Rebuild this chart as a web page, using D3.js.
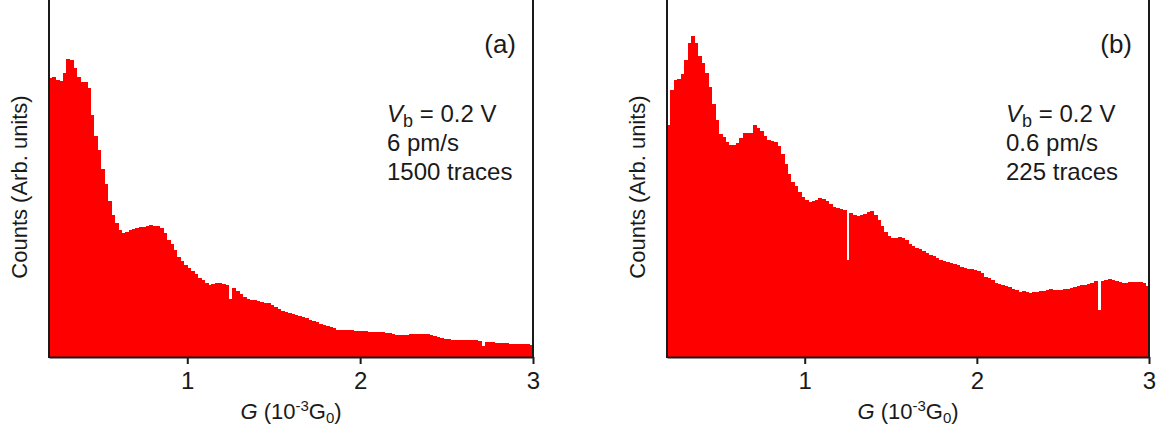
<!DOCTYPE html>
<html>
<head>
<meta charset="utf-8">
<script src="https://cdn.jsdelivr.net/npm/d3@7"></script>
<style>
  html, body { margin: 0; padding: 0; background: #fff; }
  svg { display: block; }
  text { font-family: "Liberation Sans", Arial, sans-serif; fill: #1a1a1a; }
</style>
</head>
<body>
<svg id="chart" width="1158" height="432"></svg>
<script>
// ---- data ----
const binStart = 0.2;     // 10^-3 G0
const binWidth = 0.02;    // 10^-3 G0
const xTicks = [1, 2, 3];

const countsA = [279,280,277,276,284.5,298,297,289,280,275,
  275,269,242,221,207,188,173,156,142,134,
  127,124,125,127,128,129,130,130.5,131.5,132,
  131.5,131,129,124,117,113,107,100.5,96,92,
  89,86,83,79,77,74,72.5,73.5,74.5,74,
  73,72,58,69,66,63,60,58.5,57.5,56.7,
  56,54.7,54.3,54.3,52.5,50.5,48.5,46.5,45,44,
  42.8,42.3,41.5,40.3,39,37,35.7,34.7,33.5,32.4,
  31.4,30.5,29,27.3,27,27,27,27,26.5,26.2,
  26,25.7,25.4,25.3,25.3,25.3,25.3,24.5,23.7,22.8,
  21.8,22,22.2,22.5,22.7,22.8,23,23,22.8,22.7,
  22.2,21,20,18.8,18,17.7,17.4,17.2,17.1,17,
  17,17,17,16.7,16.4,11.5,15.5,15,14.6,14.3,
  14,13.7,13.6,13.5,13.4,13.3,13.2,13,12.7,12];

const countsB = [232,267,277,278.5,283,297,314,321,314,301,
  294,284,270,253,237,223.5,220,215,212.5,212,
  214.5,219.5,224,224.3,224,232,229,226.5,221,217,
  216,215,211.5,203.5,193,183,175,171,165.5,160.5,
  157,155.5,156.5,157.5,159,158.5,156.5,153.5,150.5,149,
  148,147.3,97,144,142.2,141.5,142,143,145,146.5,
  142,137,131,125.5,121,119,119.5,119.7,119.2,117.2,
  113.5,111.5,109.5,108,106,104.5,102.5,101,99.2,97.5,
  95.7,94.7,93.8,93,92,90.5,88.8,88.2,87.7,87,
  86,84,80.5,79,77.5,74,73,71.8,71,69.8,
  68.5,67,65.4,66,65.5,64.3,64.7,65,65.8,66.4,
  67.2,67.6,67.1,67.1,67.5,67.9,68.4,69.1,69.9,70.7,
  71.6,72.5,73.4,74.2,75.9,47,76.3,76.8,77.6,77,
  76.1,75.2,74.4,74.5,74.7,75,75.3,74.8,74.3,71.5];

const panelLabels = ["(a)", "(b)"];
const speeds = ["6 pm/s", "0.6 pm/s"];
const traces = ["1500 traces", "225 traces"];
const biasText = "= 0.2 V";
const yTitle = "Counts (Arb. units)";

// ---- layout ----
const svg = d3.select("#chart");
const plotTop = 0, plotBottom = 357;
const panels = [
  { left: 49, right: 533, counts: countsA, textX: 387, idx: 0 },
  { left: 667, right: 1149, counts: countsB, textX: 1006, idx: 1 }
];
const yMax = 357;

panels.forEach(p => {
  const x = d3.scaleLinear().domain([0.2, 3]).range([p.left, p.right]);
  const y = d3.scaleLinear().domain([0, yMax]).range([plotBottom, plotTop]);
  const g = svg.append("g");

  // bars
  g.append("g").selectAll("rect")
    .data(p.counts)
    .join("rect")
    .attr("x", (d, i) => x(binStart + i * binWidth))
    .attr("width", (d, i) => Math.max(0, Math.min(p.right, x(binStart + (i + 1) * binWidth) + 0.5) - x(binStart + i * binWidth)))
    .attr("y", d => y(d))
    .attr("height", d => y(0) - y(d))
    .attr("fill", "#ff0000")
    .attr("shape-rendering", "crispEdges");

  // x axis
  const ax = d3.axisBottom(x).tickValues(xTicks).tickFormat(d3.format("d"))
    .tickSizeInner(7).tickSizeOuter(0).tickPadding(8);
  const axG = g.append("g").attr("transform", `translate(0,${plotBottom})`).call(ax);
  axG.select(".domain").attr("stroke", "#1a1a1a").attr("stroke-width", 2);
  axG.selectAll(".tick line").attr("stroke", "#1a1a1a").attr("stroke-width", 2);
  axG.selectAll(".tick text").attr("font-size", 24)
    .style("font-family", '"Liberation Sans", Arial, sans-serif').attr("fill", "#1a1a1a");

  // left and right frame lines
  g.append("line").attr("x1", p.left).attr("x2", p.left).attr("y1", plotTop).attr("y2", plotBottom + 1)
    .attr("stroke", "#1a1a1a").attr("stroke-width", 2);
  g.append("line").attr("x1", p.right).attr("x2", p.right).attr("y1", plotTop).attr("y2", plotBottom + 1)
    .attr("stroke", "#1a1a1a").attr("stroke-width", 2);

  // x title
  const cx = (p.left + p.right) / 2;
  const xt = g.append("text").attr("x", cx).attr("y", 419).attr("text-anchor", "middle").attr("font-size", 22);
  xt.append("tspan").attr("font-style", "italic").text("G");
  xt.append("tspan").text(" (10");
  xt.append("tspan").attr("font-size", 15).attr("dy", -8).text("-3");
  xt.append("tspan").attr("dy", 8).text("G");
  xt.append("tspan").attr("font-size", 15).attr("dy", 4).text("0");
  xt.append("tspan").attr("dy", -4).text(")");

  // y title
  g.append("text")
    .attr("transform", `translate(${p.left - 22},187) rotate(-90)`)
    .attr("text-anchor", "middle").attr("font-size", 22).text(yTitle);

  // panel label
  g.append("text").attr("x", p.right - 17).attr("y", 53).attr("text-anchor", "end")
    .attr("font-size", 26).text(panelLabels[p.idx]);

  // annotation
  const t1 = g.append("text").attr("x", p.textX).attr("y", 122).attr("font-size", 24);
  t1.append("tspan").attr("font-style", "italic").text("V");
  t1.append("tspan").attr("font-size", 18).attr("dy", 5).text("b");
  t1.append("tspan").attr("dy", -5).text(" " + biasText);
  g.append("text").attr("x", p.textX).attr("y", 151).attr("font-size", 24).text(speeds[p.idx]);
  g.append("text").attr("x", p.textX).attr("y", 180).attr("font-size", 24).text(traces[p.idx]);
});
</script>
</body>
</html>
